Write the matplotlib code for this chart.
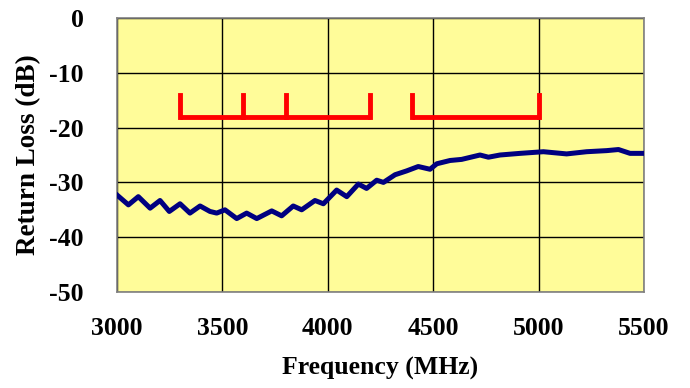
import matplotlib.pyplot as plt

# curve
freq = [3000, 3054, 3101, 3157, 3204, 3248, 3299, 3346, 3394, 3441, 3473, 3512,
        3568, 3615, 3663, 3734, 3781, 3836, 3876, 3939, 3979, 4042, 4090, 4145,
        4184, 4232, 4264, 4319, 4374, 4429, 4485, 4517, 4580, 4635, 4722, 4762,
        4817, 4912, 5023, 5133, 5228, 5323, 5379, 5434, 5497]
rl = [-32.3, -34.1, -32.6, -34.7, -33.3, -35.3, -33.9, -35.6, -34.3, -35.3, -35.6, -35.0,
      -36.6, -35.6, -36.6, -35.2, -36.1, -34.3, -35.0, -33.3, -33.9, -31.4, -32.6, -30.3,
      -31.1, -29.6, -30.0, -28.6, -27.9, -27.1, -27.6, -26.6, -26.0, -25.8, -25.0, -25.4,
      -25.0, -24.7, -24.4, -24.8, -24.4, -24.2, -24.0, -24.7, -24.7]

# band markers
band1 = [3300, 3600, 3800, 4200]
band2 = [4400, 5000]
band_y = -18
band_top = -14

plt.rcParams['font.family'] = ['Liberation Serif', 'DejaVu Serif']
plt.rcParams['font.weight'] = 'bold'
plt.rcParams['axes.unicode_minus'] = False

fig = plt.figure(figsize=(6.9, 3.88), dpi=100)
ax = fig.add_axes([0.1696, 0.2474, 0.7637, 0.7062])
ax.set_facecolor('#FFFC99')

ax.plot(freq, rl, color='#000080', lw=3.6, solid_joinstyle='round', zorder=3)

for band in (band1, band2):
    ax.plot([band[0], band[-1]], [band_y, band_y], color='red', lw=3.5,
            solid_capstyle='butt', zorder=3)
    for f in band:
        ax.plot([f, f], [band_y, band_top], color='red', lw=3.5,
                solid_capstyle='projecting', zorder=3)

ax.set_xlim(3000, 5500)
ax.set_ylim(-50, 0)
ax.set_xticks(range(3000, 5501, 500))
ax.set_yticks(range(-50, 1, 10))
ax.grid(True, color='black', lw=1)
ax.tick_params(length=0, labelsize=18.5)
ax.tick_params(axis='y', pad=24)
ax.tick_params(axis='x', pad=18)
for lab in ax.get_xticklabels() + ax.get_yticklabels():
    lab.set_fontweight('bold')
for s in ax.spines.values():
    s.set_color('#808080')
    s.set_linewidth(1.2)

ax.set_xlabel('Frequency (MHz)', fontsize=18.5, fontweight='bold', labelpad=12)
ax.set_ylabel('Return Loss (dB)', fontsize=19.5, fontweight='bold', labelpad=6)

fig.savefig('out.png', dpi=100)
